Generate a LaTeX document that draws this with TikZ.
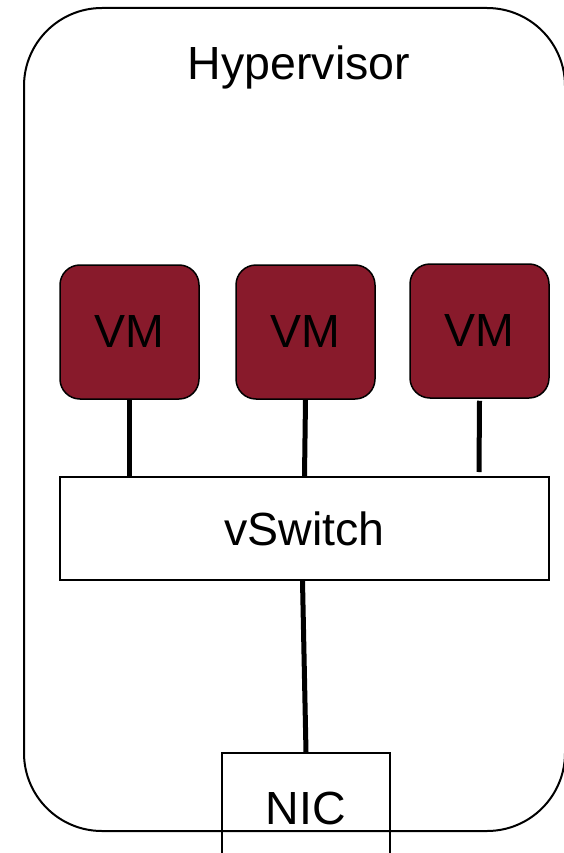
\documentclass[tikz,border=0pt]{standalone}
\usepackage{fontspec}
\setmainfont{Liberation Sans}
\definecolor{vmred}{HTML}{881A2B}
\begin{document}
\begin{tikzpicture}[x=1pt,y=-1pt,
  lbl/.style={font=\fontsize{46.5}{50}\selectfont},
  vmbox/.style={draw=black,line width=1.5pt,fill=vmred,rounded corners=20pt,minimum width=139pt,minimum height=134pt,inner sep=0pt,lbl},
  plainbox/.style={draw=black,line width=1.5pt,inner sep=0pt,lbl},
  link/.style={line width=5pt}]
\useasboundingbox (0,0) rectangle (563,853);
\fill[white] (0,0) rectangle (563,853);
\draw[line width=2pt,rounded corners=78pt] (24,8) rectangle (565,831);
\node[lbl] (hyp) at (299,67) {Hypervisor};
\node[vmbox] (vm1) at (129.5,332) {VM};
\node[vmbox] (vm2) at (305.5,332) {VM};
\node[vmbox] (vm3) at (479.5,331) {VM};
\node[plainbox,fill=white,minimum width=489pt,minimum height=103pt] (sw) at (304.5,528.5) {vSwitch};
\node[plainbox,minimum width=168pt,minimum height=110pt] (nic) at (306,808) {NIC};
\coordinate (e3) at (479,472);
\draw[link] (vm1.south) -- (vm1.south |- sw.north);
\draw[link] (vm2.south) -- ([xshift=-1pt]vm2.south |- sw.north);
\draw[link] ([yshift=-2pt]vm3.south) -- (e3);
\draw[link] ([xshift=-2pt]sw.south) -- (nic.north);
\end{tikzpicture}
\end{document}
